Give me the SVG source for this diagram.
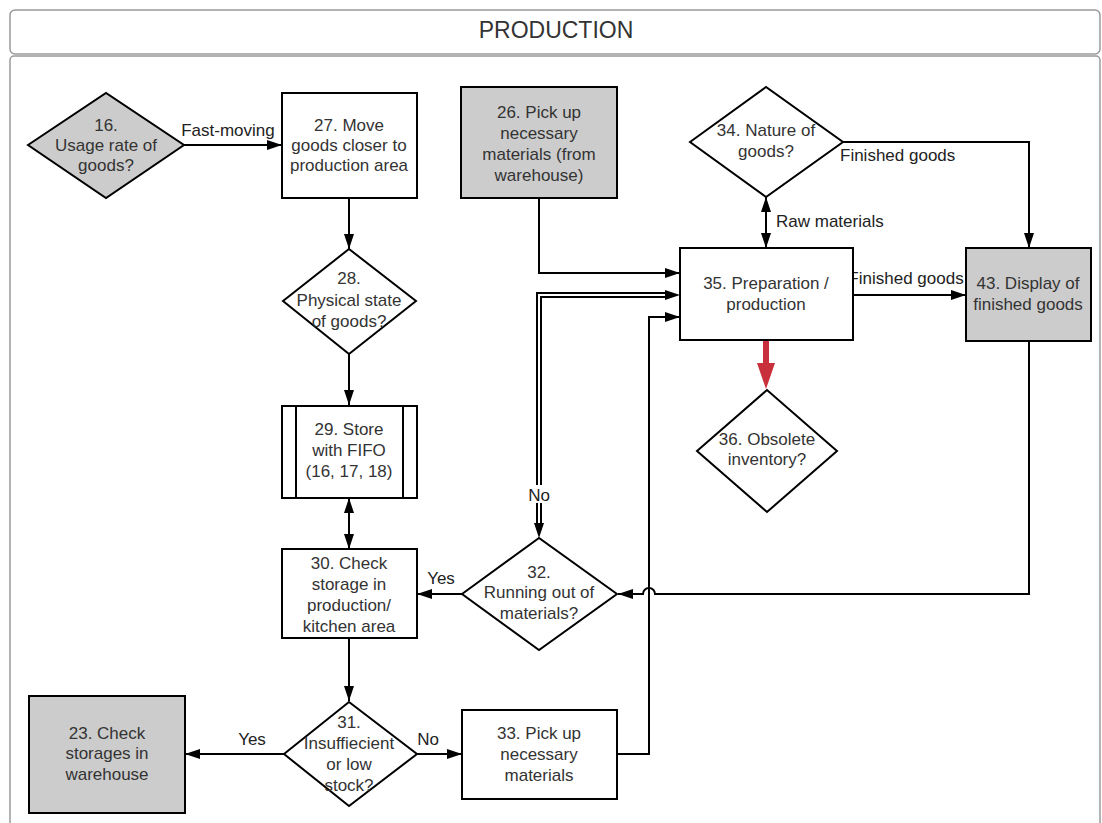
<svg xmlns="http://www.w3.org/2000/svg" width="1102" height="823" viewBox="0 0 1102 823">
<defs>
<style>
.frame{fill:#fff;stroke:#9a9a9a;stroke-width:1.5}
.box{fill:#fff;stroke:#000;stroke-width:2}
.grey{fill:#cccccc;stroke:#000;stroke-width:2}
.t{font-family:"Liberation Sans",Arial,sans-serif;font-size:17px;fill:#333;text-anchor:middle}
.ls{font-family:"Liberation Sans",Arial,sans-serif;font-size:17px;fill:#222;text-anchor:middle}
.ln{fill:none;stroke:#000;stroke-width:2;marker-end:url(#arr)}
.bi{marker-start:url(#arr)}
</style>
<marker id="arr" markerWidth="16" markerHeight="12" refX="15" refY="6" orient="auto-start-reverse" markerUnits="userSpaceOnUse"><path d="M0,1 L15,6 L0,11 z" fill="#000"/></marker>
</defs>
<rect width="1102" height="823" fill="#fff"/>
<g id="container">
<rect class="frame" x="10" y="56" width="1090" height="800" rx="4"/>
<rect class="frame" x="10" y="10" width="1090" height="44" rx="5"/>
<text x="556" y="38" font-family="'Liberation Sans',Arial,sans-serif" font-size="23" fill="#333" text-anchor="middle">PRODUCTION</text>
</g>
<g id="connectors">
<path class="ln" d="M184 145 L282 145"/>
<path class="ln" d="M349 198 L349 249"/>
<path class="ln" d="M349 354 L349 405"/>
<path class="ln bi" d="M349 498 L349 549"/>
<path class="ln" d="M349 638 L349 701"/>
<path class="ln" d="M284 754 L185 754"/>
<path class="ln" d="M417 754 L462 754"/>
<path class="ln" d="M617 754 L649 754 L649 317 L680 317"/>
<path class="ln" d="M539 198 L539 273 L680 273"/>
<path class="ln bi" d="M766 197 L766 248"/>
<path class="ln" d="M843 142 L1029 142 L1029 248"/>
<path class="ln" d="M853 295 L966 295"/>
<path class="ln" d="M1029 341 L1029 594 L655 594 A6 6 0 0 0 643 594 L618 594"/>
<path class="ln" d="M462 594 L417 594"/>
<path d="M668 295 L539 295 L539 526" fill="none" stroke="#000" stroke-width="6"/>
<path d="M668 295 L539 295 L539 526" fill="none" stroke="#fff" stroke-width="2"/>
<polygon points="680,295 665,290 665,300" fill="#000"/>
<polygon points="539,538 534,523 544,523" fill="#000"/>
<path d="M766 341 L766 366" stroke="#c8303c" stroke-width="6" fill="none"/>
<polygon points="766,389 757,363 775,363" fill="#c8303c"/>
<text class="ls" x="228" y="136">Fast-moving</text>
<text class="ls" x="776" y="227" style="text-anchor:start">Raw materials</text>
<text class="ls" x="840" y="161" style="text-anchor:start">Finished goods</text>
<text class="ls" x="906" y="284">Finished goods</text>
<rect x="526" y="485" width="26" height="18" fill="#fff"/>
<text class="ls" x="539" y="501">No</text>
<text class="ls" x="441" y="584">Yes</text>
<text class="ls" x="252" y="745">Yes</text>
<text class="ls" x="428" y="745">No</text>
</g>
<g id="n16">
<polygon class="grey" points="28,145 106,93 184,145 106,198"/>
<text class="t" x="106" y="131">16.</text>
<text class="t" x="106" y="151">Usage rate of</text>
<text class="t" x="106" y="171">goods?</text>
</g>
<g id="n27">
<rect class="box" x="282" y="93" width="135" height="105"/>
<text class="t" x="349" y="131">27. Move</text>
<text class="t" x="349" y="151">goods closer to</text>
<text class="t" x="349" y="171">production area</text>
</g>
<g id="n26">
<rect class="grey" x="461" y="87" width="156" height="111"/>
<text class="t" x="539" y="118">26. Pick up</text>
<text class="t" x="539" y="139">necessary</text>
<text class="t" x="539" y="160">materials (from</text>
<text class="t" x="539" y="181">warehouse)</text>
</g>
<g id="n34">
<polygon class="box" points="690,142 766,87 843,142 766,197"/>
<text class="t" x="766" y="136">34. Nature of</text>
<text class="t" x="766" y="157">goods?</text>
</g>
<g id="n35">
<rect class="box" x="680" y="248" width="173" height="92"/>
<text class="t" x="766" y="289">35. Preparation /</text>
<text class="t" x="766" y="310">production</text>
</g>
<g id="n43">
<rect class="grey" x="966" y="248" width="125" height="93"/>
<text class="t" x="1028" y="289">43. Display of</text>
<text class="t" x="1028" y="310">finished goods</text>
</g>
<g id="n36">
<polygon class="box" points="697,451 767,390 837,451 767,512"/>
<text class="t" x="767" y="445">36. Obsolete</text>
<text class="t" x="767" y="465">inventory?</text>
</g>
<g id="n28">
<polygon class="box" points="283,301 349,249 416,301 349,354"/>
<text class="t" x="349" y="284">28.</text>
<text class="t" x="349" y="306">Physical state</text>
<text class="t" x="349" y="327">of goods?</text>
</g>
<g id="n29">
<rect class="box" x="282" y="406" width="135" height="92"/>
<line x1="296" y1="406" x2="296" y2="498" stroke="#000" stroke-width="2"/>
<line x1="403" y1="406" x2="403" y2="498" stroke="#000" stroke-width="2"/>
<text class="t" x="349" y="435">29. Store</text>
<text class="t" x="349" y="456">with FIFO</text>
<text class="t" x="349" y="477">(16, 17, 18)</text>
</g>
<g id="n30">
<rect class="box" x="282" y="549" width="135" height="89"/>
<text class="t" x="349" y="569">30. Check</text>
<text class="t" x="349" y="590">storage in</text>
<text class="t" x="349" y="611">production/</text>
<text class="t" x="349" y="632">kitchen area</text>
</g>
<g id="n32">
<polygon class="box" points="462,594 539,538 617,594 539,650"/>
<text class="t" x="539" y="578">32.</text>
<text class="t" x="539" y="598">Running out of</text>
<text class="t" x="539" y="619">materials?</text>
</g>
<g id="n31">
<polygon class="box" points="284,754 349,702 417,754 349,806"/>
<text class="t" x="349" y="728">31.</text>
<text class="t" x="349" y="749">Insuffiecient</text>
<text class="t" x="349" y="770">or low</text>
<text class="t" x="349" y="791">stock?</text>
</g>
<g id="n23">
<rect class="grey" x="29" y="696" width="156" height="117"/>
<text class="t" x="107" y="739">23. Check</text>
<text class="t" x="107" y="759">storages in</text>
<text class="t" x="107" y="780">warehouse</text>
</g>
<g id="n33">
<rect class="box" x="462" y="710" width="155" height="89"/>
<text class="t" x="539" y="739">33. Pick up</text>
<text class="t" x="539" y="760">necessary</text>
<text class="t" x="539" y="781">materials</text>
</g>
</svg>
